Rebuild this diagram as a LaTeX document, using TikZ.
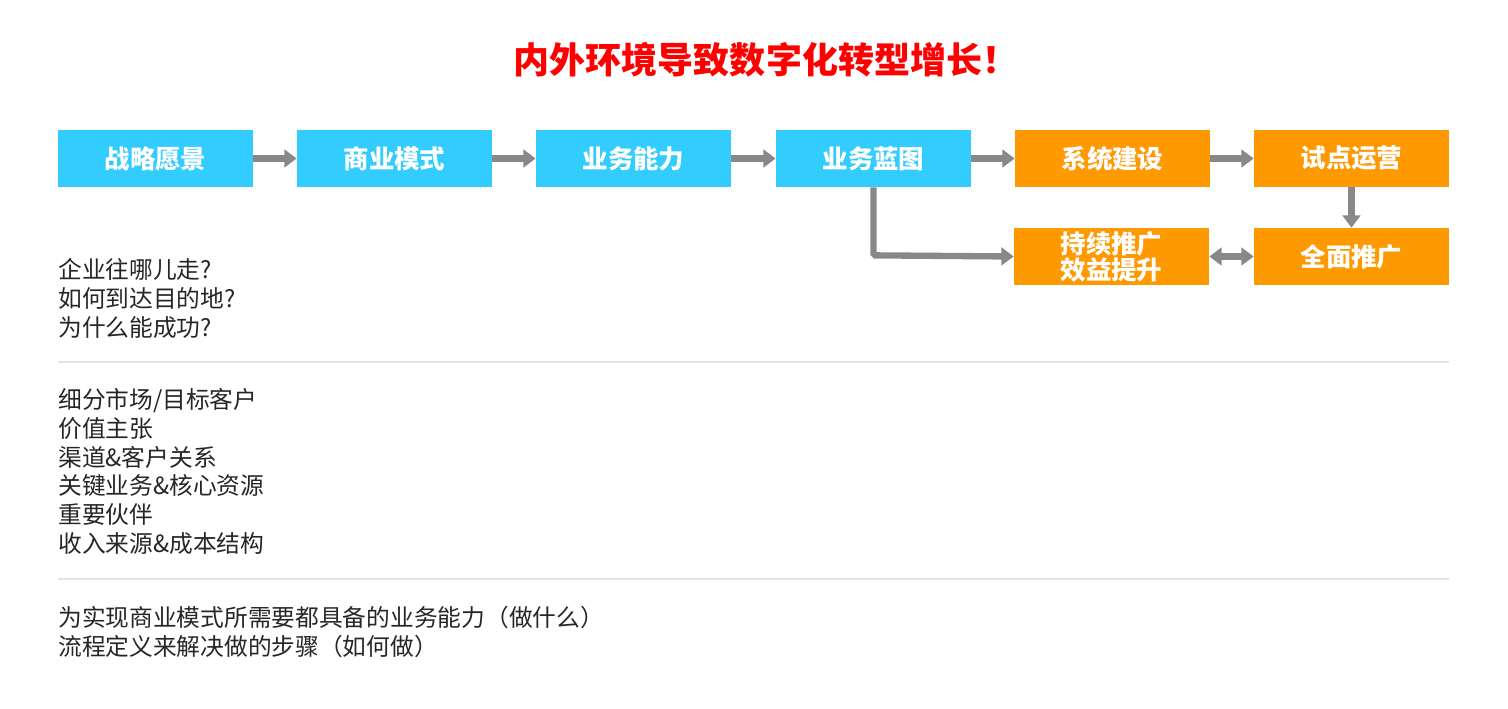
\documentclass[tikz,border=0pt]{standalone}
\usepackage{fontspec}
\setmainfont{Noto Sans CJK SC}
\newfontfamily\cjkbold[BoldFont={Noto Sans CJK SC Bold}]{Noto Sans CJK SC}
\usepackage{xcolor}
\usetikzlibrary{arrows.meta}
\definecolor{skyBlue}{RGB}{51, 204, 255}
\definecolor{deepOrange}{RGB}{255, 153, 0}
\definecolor{arrowGray}{RGB}{136, 136, 136}
\definecolor{ruleGray}{RGB}{221, 229, 238}

\begin{document}
\begin{tikzpicture}[x=0.02cm, y=-0.02cm,
    stagebox/.style={minimum width=3.9cm, minimum height=1.14cm, inner sep=0pt,
        text=white, font=\fontsize{14.5}{14.5}\selectfont\bfseries, align=center},
    bluebox/.style={stagebox, fill=skyBlue},
    orangebox/.style={stagebox, fill=deepOrange},
    flow/.style={arrowGray, line width=3.6pt, -{Triangle[length=7pt, width=10pt]}},
    notes/.style={anchor=north west, inner sep=0pt, align=left,
        font=\fontsize{13.5}{16.4}\selectfont, text=black!85}]
    \useasboundingbox (0,0) rectangle (1508,708);

    % title
    \node[text=red, font=\fontsize{20.5}{20.5}\selectfont\bfseries] (title) at (766,60)
        {内外环境导致数字化转型增长！};

    % top row
    \node[bluebox] (vision) at (155.5,158.5) {战略愿景};
    \node[bluebox] (model) at (394.5,158.5) {商业模式};
    \node[bluebox] (ability) at (633.5,158.5) {业务能力};
    \node[bluebox] (blueprint) at (873.5,158.5) {业务蓝图};
    \node[orangebox] (build) at (1112.5,158.5) {系统建设};
    \node[orangebox] (pilot) at (1351.5,158.5) {试点运营};

    % second row
    \node[orangebox, font=\fontsize{14.5}{14.8}\selectfont\bfseries] (keepup) at (1111.5,256.5) {持续推广\\效益提升};
    \node[orangebox] (rollout) at (1351.5,256.5) {全面推广};

    % arrows
    \draw[flow] (vision) -- (model);
    \draw[flow] (model) -- (ability);
    \draw[flow] (ability) -- (blueprint);
    \draw[flow] (blueprint) -- (build);
    \draw[flow] (build) -- (pilot);
    \draw[flow] (pilot) -- (rollout);
    \draw[flow, {Triangle[length=7pt, width=10pt]}-{Triangle[length=7pt, width=10pt]}] (keepup) -- (rollout);
    \draw[flow, rounded corners=1pt] (blueprint.south) -- ++(0,68) -- (keepup.west);

    % notes
    \node[notes] (why) at (58,258) {企业往哪儿走?\\如何到达目的地?\\为什么能成功?};
    \draw[ruleGray, line width=0.6pt] (58,362) -- (1449,362);
    \node[notes] (canvas) at (58,388) {细分市场/目标客户\\价值主张\\渠道\&客户关系\\关键业务\&核心资源\\重要伙伴\\收入来源\&成本结构};
    \draw[ruleGray, line width=0.6pt] (58,579) -- (1449,579);
    \node[notes] (what) at (58,606) {为实现商业模式所需要都具备的业务能力（做什么）\\流程定义来解决做的步骤（如何做）};
\end{tikzpicture}
\end{document}
